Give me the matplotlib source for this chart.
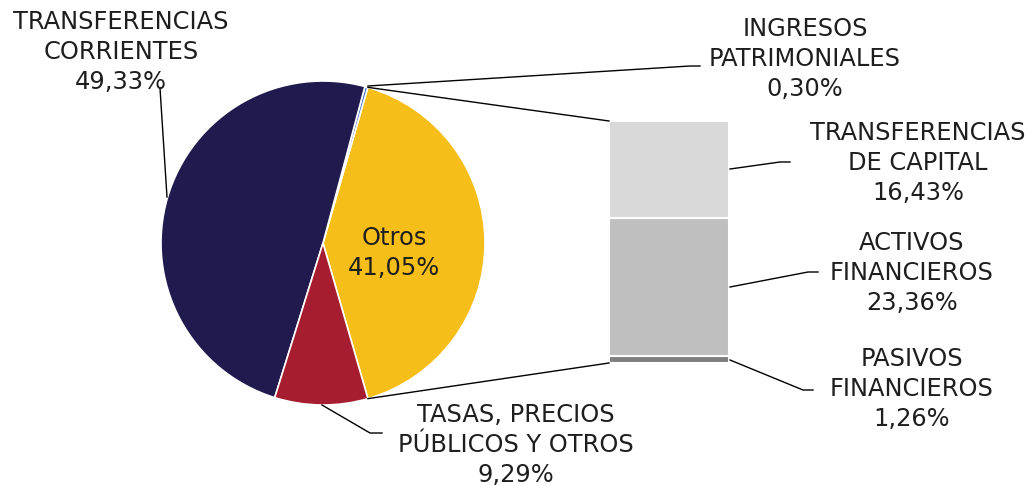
import matplotlib
matplotlib.use("Agg")
import matplotlib.pyplot as plt
import numpy as np

# ---- data ----
pie_labels = ["Otros", "INGRESOS\nPATRIMONIALES", "TRANSFERENCIAS\nCORRIENTES", "TASAS, PRECIOS\nPÚBLICOS Y OTROS"]
pie_values = [41.05, 0.30, 49.33, 9.29]
pie_colors = ["#F6BE18", "#4472C4", "#201A4E", "#A51D2E"]

bar_labels = ["PASIVOS\nFINANCIEROS", "ACTIVOS\nFINANCIEROS", "TRANSFERENCIAS\nDE CAPITAL"]
bar_values = [1.26, 23.36, 16.43]
bar_colors = ["#7F7F7F", "#BFBFBF", "#D9D9D9"]


def pct(v):
    return f"{v:.2f}".replace(".", ",") + "%"


W, H = 1032, 486
fig = plt.figure(figsize=(W / 100, H / 100), dpi=100)
ax = fig.add_axes([0, 0, 1, 1])

def Y(py):  # pixel y (top-down) -> data y
    return H - py

txt_color = "#1E1E1E"
fs = 17.4
ls = 1.29
font = "DejaVu Sans"

# ---- pie ----
cx, cy, R = 323, Y(243), 162
start = -pie_values[0] / 100 * 360 / 2
wedges, _ = ax.pie(pie_values, colors=pie_colors, startangle=start, counterclock=True,
                   center=(cx, cy), radius=R, frame=True,
                   wedgeprops=dict(edgecolor="white", linewidth=1.2))
ax.set_xlim(0, W)
ax.set_ylim(0, H)
ax.set_aspect("equal")
ax.axis("off")

# ---- stacked bar ----
bx, bw = 669, 120
bar_total_px = 242
scale = bar_total_px / sum(bar_values)
bottom = Y(363)
for v, c in zip(bar_values, bar_colors):
    ax.bar(bx, v * scale, width=bw, bottom=bottom, color=c, edgecolor="white", linewidth=1.5)
    bottom += v * scale
bar_top = bottom

# connection lines from Otros wedge edges to bar corners
a1 = np.deg2rad(start + pie_values[0] / 100 * 360)
a0 = np.deg2rad(start)
ax.plot([cx + R * np.cos(a1), bx - bw / 2], [cy + R * np.sin(a1), bar_top], color="black", lw=1)
ax.plot([cx + R * np.cos(a0), bx - bw / 2], [cy + R * np.sin(a0), Y(363)], color="black", lw=1)

def leader(pts):
    xs = [p[0] for p in pts]
    ys = [Y(p[1]) for p in pts]
    ax.plot(xs, ys, color="black", lw=1)

def label(x, y, text):
    ax.text(x, Y(y), text, ha="center", va="center", fontsize=fs, color=txt_color,
            family=font, linespacing=ls)

# pie labels
leader([(167, 197), (160, 88)])
label(121, 52, pie_labels[2] + "\n" + pct(pie_values[2]))

leader([(368, 86), (690, 66), (700, 66)])
label(805, 59, pie_labels[1] + "\n" + pct(pie_values[1]))

leader([(322, 405), (370, 433), (382, 433)])
label(516, 445, pie_labels[3] + "\n" + pct(pie_values[3]))

label(394, 253, pie_labels[0] + "\n" + pct(pie_values[0]))

# bar labels
leader([(730, 169), (780, 162), (790, 162)])
label(918, 163, bar_labels[2] + "\n" + pct(bar_values[2]))

leader([(730, 287), (808, 272), (818, 272)])
label(912, 273, bar_labels[1] + "\n" + pct(bar_values[1]))

leader([(730, 360), (803, 390), (813, 390)])
label(912, 389, bar_labels[0] + "\n" + pct(bar_values[0]))

fig.savefig("out.png", dpi=100)
